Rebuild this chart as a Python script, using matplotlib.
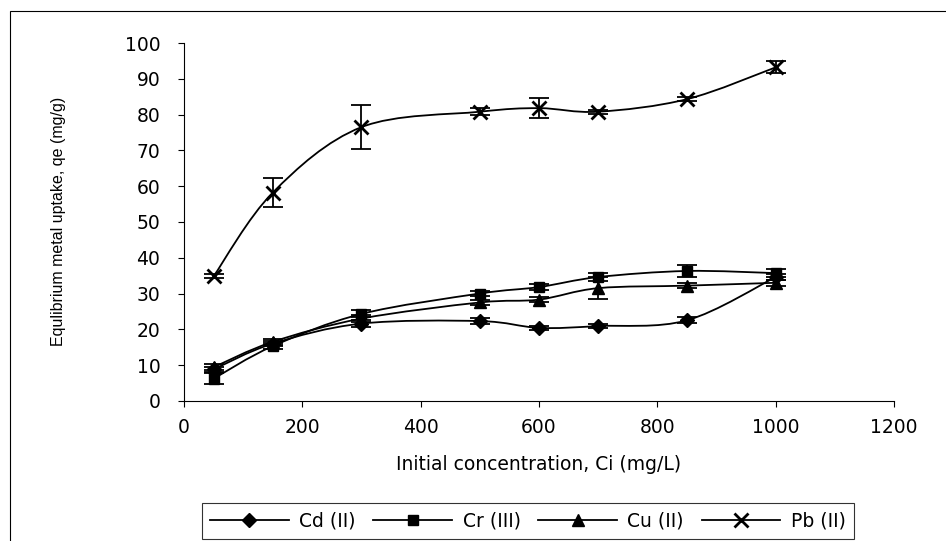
import numpy as np
import matplotlib
matplotlib.use('Agg')
import matplotlib.pyplot as plt
from matplotlib.path import Path
from matplotlib.patches import PathPatch, Rectangle
from matplotlib.lines import Line2D

plt.rcParams['font.family'] = ['DejaVu Sans']

# data
conc = [50, 150, 300, 500, 600, 700, 850, 1000]
cd = [8.8, 16.0, 21.6, 22.3, 20.4, 20.9, 22.5, 34.6]
cr = [6.2, 15.3, 24.3, 30.0, 31.8, 34.6, 36.3, 35.7]
cu = [9.4, 16.5, 23.0, 27.5, 28.3, 31.5, 32.2, 33.0]
pb = [34.8, 58.2, 76.5, 80.8, 81.8, 80.8, 84.3, 93.2]

cd_err = [0.8, 0.8, 1.0, 0.8, 0.6, 0.6, 0.8, 0.8]
cr_err = [1.5, 0.8, 1.0, 0.8, 0.8, 1.0, 1.7, 1.2]
cu_err = [0.8, 0.8, 1.0, 0.8, 0.6, 3.0, 0.6, 0.8]
pb_err = [0.6, 4.0, 6.2, 1.0, 2.8, 0.5, 0.6, 1.7]

labels = ['Cd (II)', 'Cr (III)', 'Cu (II)', 'Pb (II)']
markers = ['D', 's', '^', 'x']
msizes = [7, 7, 8, 10]


def smooth_path(xs, ys):
    # Catmull-Rom style smoothing, like the spreadsheet's smoothed line
    p = np.column_stack([xs, ys]).astype(float)
    n = len(p)
    verts = [p[0]]
    codes = [Path.MOVETO]
    for i in range(n - 1):
        p0 = p[i - 1] if i > 0 else p[i]
        p3 = p[i + 2] if i + 2 < n else p[i + 1]
        c1 = p[i] + (p[i + 1] - p0) / 6.0
        c2 = p[i + 1] - (p3 - p[i]) / 6.0
        verts += [c1, c2, p[i + 1]]
        codes += [Path.CURVE4] * 3
    return Path(verts, codes)


fig = plt.figure(figsize=(9.46, 5.41), dpi=100)
ax = fig.add_axes([0.1945, 0.259, 0.7505, 0.6615])

for ys, err, m, ms in zip([cd, cr, cu, pb], [cd_err, cr_err, cu_err, pb_err], markers, msizes):
    ax.add_patch(PathPatch(smooth_path(conc, ys), fill=False, edgecolor='black', lw=1.3, zorder=2))
    ax.errorbar(conc, ys, yerr=err, fmt='none', ecolor='black', elinewidth=1.3,
                capsize=7.5, capthick=1.3, zorder=3)
    ax.plot(conc, ys, linestyle='none', marker=m, markersize=ms, color='black',
            markeredgewidth=2 if m == 'x' else 1, zorder=4)

ax.set_xlim(0, 1200)
ax.set_ylim(0, 100)
ax.set_xticks(np.arange(0, 1201, 200))
ax.set_yticks(np.arange(0, 101, 10))
ax.spines['right'].set_visible(False)
ax.spines['top'].set_visible(False)
ax.spines['left'].set_linewidth(0.8)
ax.spines['bottom'].set_linewidth(0.8)
ax.tick_params(direction='out', length=4, width=0.8, labelsize=13.5)
ax.tick_params(axis='y', pad=13)
ax.tick_params(axis='x', pad=8)

ax.set_xlabel('Initial concentration, Ci (mg/L)', fontsize=13.5, labelpad=13)
fig.text(0.062, 0.59, 'Equlibrium metal uptake, qe (mg/g)', rotation=90,
         ha='center', va='center', fontsize=11.5, family='Liberation Sans')

handles = [Line2D([], [], color='black', lw=1.3, marker=m, markersize=ms,
                  markeredgewidth=2 if m == 'x' else 1)
           for m, ms in zip(markers, msizes)]
leg = fig.legend(handles, labels, ncol=4, loc='lower center',
                 bbox_to_anchor=(0.558, -0.014), fontsize=13.5, frameon=True,
                 fancybox=False, edgecolor='black', handlelength=4.2,
                 columnspacing=0.95, handletextpad=0.55, borderpad=0.45)
leg.get_frame().set_linewidth(0.8)

# outer chart frame (cut on right and bottom)
fig.patches.append(Rectangle((10 / 946, -0.1), 1.2, 1.1 - 11 / 541,
                             transform=fig.transFigure, fill=False,
                             edgecolor='black', lw=0.8))

fig.savefig('out.png', dpi=100)
